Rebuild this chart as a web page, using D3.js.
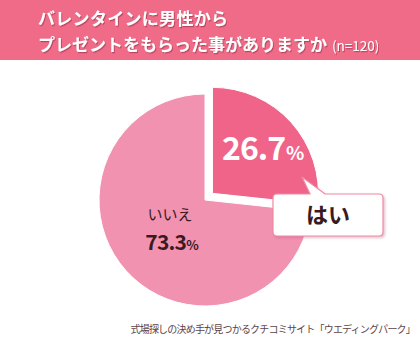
<!DOCTYPE html>
<html>
<head>
<meta charset="utf-8">
<script src="https://cdn.jsdelivr.net/npm/d3@7"></script>
<style>
  html, body { margin: 0; padding: 0; background: #fff; }
  svg { display: block; }
  text { font-family: "Noto Sans CJK JP", "Noto Sans", sans-serif; }
</style>
</head>
<body>
<svg id="chart" width="420" height="340"></svg>
<script>
// Survey answers (n=120)
const answers = ["はい", "いいえ"];
const shares = [26.7, 73.3];
const shareLabels = ["26.7", "73.3"];
const titleLines = ["バレンタインに男性から", "プレゼントをもらった事がありますか"];
const sampleNote = "(n=120)";
const sourceNote = "式場探しの決め手が見つかるクチコミサイト「ウエディングパーク」";

const W = 420, H = 340;
const svg = d3.select("#chart");
const defs = svg.append("defs");

const shadow = defs.append("filter").attr("id", "titleShadow")
  .attr("x", "-5%").attr("y", "-20%").attr("width", "110%").attr("height", "140%");
shadow.append("feDropShadow").attr("dx", 1).attr("dy", 1.2).attr("stdDeviation", 0.6)
  .attr("flood-color", "#8a2a40").attr("flood-opacity", 0.55);

const boxShadow = defs.append("filter").attr("id", "boxShadow")
  .attr("x", "-10%").attr("y", "-20%").attr("width", "125%").attr("height", "150%");
boxShadow.append("feDropShadow").attr("dx", 1.5).attr("dy", 1.5).attr("stdDeviation", 1)
  .attr("flood-color", "#b05070").attr("flood-opacity", 0.35);

// Header band
svg.append("rect").attr("x", 0).attr("y", 0).attr("width", W).attr("height", 60)
  .attr("fill", "#ef6b87");

const title = svg.append("g").attr("filter", "url(#titleShadow)");
title.append("text").attr("x", 38).attr("y", 25)
  .attr("fill", "#fff").attr("font-size", 17).attr("font-weight", 700)
  .attr("letter-spacing", 0.3)
  .text(titleLines[0]);
const line2 = title.append("text").attr("x", 38).attr("y", 51)
  .attr("fill", "#fff").attr("font-size", 17).attr("font-weight", 700);
line2.append("tspan").text(titleLines[1]);
line2.append("tspan").attr("dx", 5).attr("font-size", 13.5).attr("font-weight", 400)
  .text(sampleNote);

// Pie
const cx = 205, cy = 200, R = 106;
const colors = d3.scaleOrdinal().domain(answers).range(["#f0648a", "#f292b1"]);
const pie = d3.pie().sort(null).startAngle(0).endAngle(2 * Math.PI);
const arcs = pie(shares).map((d, i) => Object.assign(d, { key: answers[i], label: shareLabels[i] }));
const arc = d3.arc().innerRadius(0).outerRadius(R);
const explode = 10;

const pieG = svg.append("g").attr("transform", `translate(${cx},${cy})`);
pieG.selectAll("path").data(arcs).join("path")
  .attr("d", arc)
  .attr("fill", d => colors(d.key))
  .attr("stroke", "#fff")
  .attr("stroke-width", 1)
  .attr("transform", (d, i) => {
    if (i !== 0) return null;
    const m = (d.startAngle + d.endAngle) / 2;
    return `translate(${explode * Math.sin(m)},${-explode * Math.cos(m)})`;
  });

// Share of "はい" inside its slice
const yes = arcs[0];
const pctYes = svg.append("text").attr("x", 222).attr("y", 160)
  .attr("fill", "#fff").attr("font-weight", 700);
pctYes.append("tspan").attr("font-size", 32).attr("letter-spacing", -1).text(yes.label);
pctYes.append("tspan").attr("font-size", 19).attr("dx", 1).text("%");

// Callout box with tail
const bx = 273, by = 194, bw = 110, bh = 42;
const callout = svg.append("g").attr("filter", "url(#boxShadow)");
callout.append("path")
  .attr("d", `M${bx + 4},${by} L${bx + 37},${by} L${bx + 29},${by - 17} L${bx + 52},${by}
              L${bx + bw - 4},${by} Q${bx + bw},${by} ${bx + bw},${by + 4}
              L${bx + bw},${by + bh - 4} Q${bx + bw},${by + bh} ${bx + bw - 4},${by + bh}
              L${bx + 4},${by + bh} Q${bx},${by + bh} ${bx},${by + bh - 4}
              L${bx},${by + 4} Q${bx},${by} ${bx + 4},${by} Z`)
  .attr("fill", "#fff").attr("stroke", "#ef8aa5").attr("stroke-width", 1.2);
svg.append("text").attr("x", bx + 55).attr("y", by + 29)
  .attr("text-anchor", "middle").attr("font-size", 22).attr("font-weight", 700)
  .attr("fill", "#3a1a1f").text(yes.key);

// "いいえ" label
const no = arcs[1];
svg.append("text").attr("x", 170).attr("y", 220)
  .attr("text-anchor", "middle").attr("font-size", 15).attr("fill", "#3a1a1f")
  .text(no.key);
const pctNo = svg.append("text").attr("x", 172).attr("y", 250)
  .attr("text-anchor", "middle").attr("fill", "#3a1a1f").attr("font-weight", 700);
pctNo.append("tspan").attr("font-size", 21).attr("letter-spacing", -0.8).text(no.label);
pctNo.append("tspan").attr("font-size", 13).text("%");

// Source
svg.append("text").attr("x", 415).attr("y", 333)
  .attr("text-anchor", "end").attr("font-size", 10).attr("letter-spacing", -0.8)
  .attr("fill", "#5b4548").text(sourceNote);
</script>
</body>
</html>
